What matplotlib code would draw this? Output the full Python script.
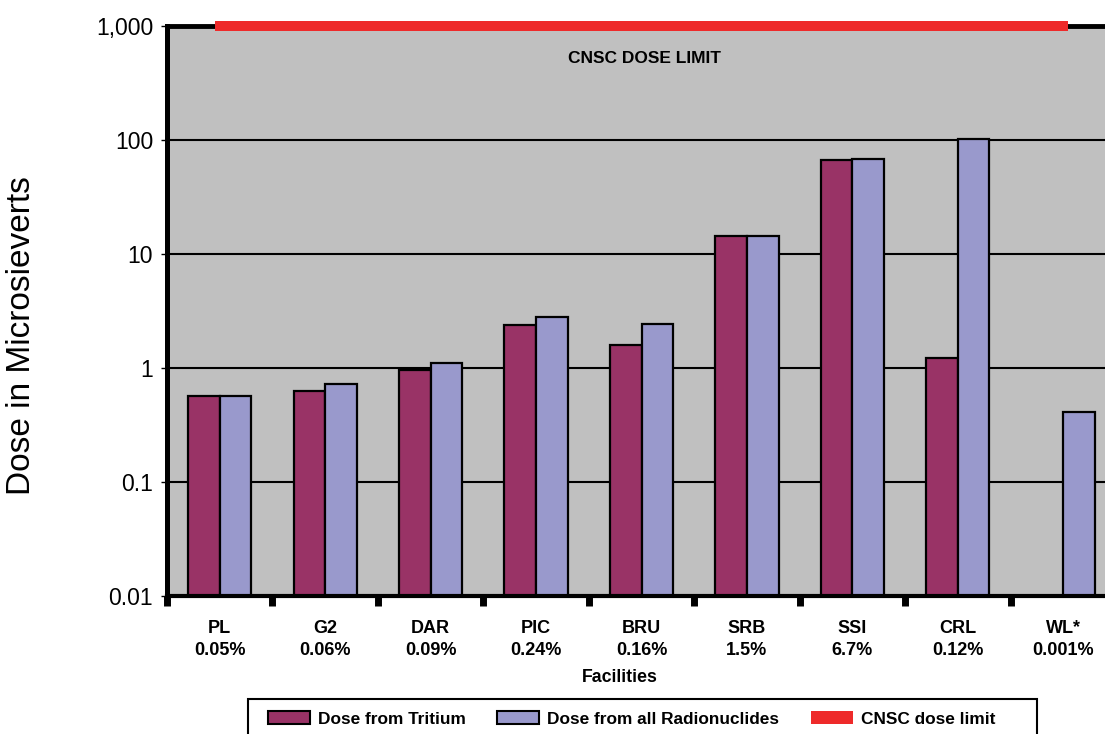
import numpy as np
import matplotlib
matplotlib.use("Agg")
import matplotlib.pyplot as plt
from matplotlib.patches import Patch, Rectangle
from matplotlib.ticker import FixedLocator, NullLocator

plt.rcParams['font.family'] = ['Liberation Sans', 'DejaVu Sans']

# facilities and share of the dose limit
facilities = ['PL', 'G2', 'DAR', 'PIC', 'BRU', 'SRB', 'SSI', 'CRL', 'WL*']
percent = ['0.05%', '0.06%', '0.09%', '0.24%', '0.16%', '1.5%', '6.7%', '0.12%', '0.001%']

# doses in microsieverts
tritium = [0.57, 0.625, 0.96, 2.38, 1.59, 14.3, 67, 1.22, np.nan]
all_radionuclides = [0.57, 0.72, 1.1, 2.81, 2.42, 14.3, 68, 102, 0.415]
dose_limit = 1000

y_ticks = [0.01, 0.1, 1, 10, 100, 1000]
y_labels = ['0.01', '0.1', '1', '10', '100', '1,000']

c_trit = '#993366'
c_all = '#9999cc'
c_limit = '#ee2a2a'

W, H = 1105, 734
fig = plt.figure(figsize=(W / 100, H / 100), dpi=100)
ax = fig.add_axes([167 / W, 1 - 596 / H, (1116 - 167) / W, (596 - 26) / H])
ax.set_facecolor('#c0c0c0')

x = np.arange(len(facilities))
bw = 0.3
ax.bar(x - bw / 2, tritium, bw, color=c_trit, edgecolor='black', linewidth=1.6, zorder=3)
ax.bar(x + bw / 2, all_radionuclides, bw, color=c_all, edgecolor='black', linewidth=1.6, zorder=3)
ax.plot(x, [dose_limit] * len(x), color=c_limit, lw=7.2, solid_capstyle='projecting',
        clip_on=False, zorder=6)

ax.set_yscale('log')
ax.set_ylim(0.01, 1000)
ax.set_xlim(-0.5, len(x) - 0.5)

ax.yaxis.set_major_locator(FixedLocator(y_ticks))
ax.yaxis.set_minor_locator(NullLocator())
ax.set_yticklabels(y_labels)
ax.tick_params(axis='y', which='major', direction='out', length=4, width=1,
               labelsize=16.5, pad=6)
ax.yaxis.grid(True, color='black', lw=1.5)
ax.set_axisbelow(True)

# boundary ticks below the axis, facility labels in between
ax.set_xticks(np.arange(-0.5, len(x)), labels=[])
ax.set_xticks(x, labels=[f'{f}\n{p}' for f, p in zip(facilities, percent)], minor=True)
ax.tick_params(axis='x', which='major', direction='out', length=7, width=5, color='black')
ax.tick_params(axis='x', which='minor', length=0, pad=17.5, labelsize=13)
for lbl in ax.get_xticklabels(minor=True):
    lbl.set_fontweight('bold')
    lbl.set_linespacing(1.35)

ax.spines['left'].set_linewidth(3.6)
ax.spines['bottom'].set_linewidth(3.0)
ax.spines['top'].set_linewidth(3.5)
ax.spines['right'].set_linewidth(3.0)
for s in ax.spines.values():
    s.set_zorder(5)

ax.text(4.03, 520, 'CNSC DOSE LIMIT', ha='center', va='center',
        fontsize=12.5, fontweight='bold')

fig.text(620 / W, 1 - 677 / H, 'Facilities', ha='center', va='center',
         fontsize=12.8, fontweight='bold')
fig.text(22 / W, 1 - 336 / H, 'Dose in Microsieverts', ha='center', va='center',
         rotation=90, fontsize=24)

# legend box
fig.patches.append(Rectangle((248 / W, 1 - 745 / H), (1037 - 248) / W, (745 - 699) / H,
                             transform=fig.transFigure, facecolor='white',
                             edgecolor='black', lw=1.5))
handles = [Patch(facecolor=c_trit, edgecolor='black', lw=1.5),
           Patch(facecolor=c_all, edgecolor='black', lw=1.5),
           Patch(facecolor=c_limit, edgecolor='none')]
fig.legend(handles, ['Dose from Tritium', 'Dose from all Radionuclides', 'CNSC dose limit'],
           loc='center left', bbox_to_anchor=(259 / W, 1 - 719 / H), ncol=3,
           frameon=False, borderpad=0, handlelength=2.45, handleheight=0.75,
           handletextpad=0.45, columnspacing=1.85,
           prop={'size': 12.4, 'weight': 'bold'})

fig.savefig('out.png', dpi=100)
